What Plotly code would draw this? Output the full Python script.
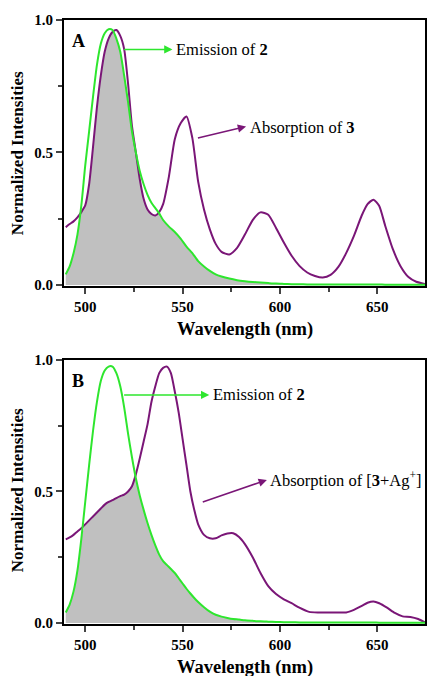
import numpy as np
import plotly.graph_objects as go

# ---------------- data ----------------
wl_a = [490, 492, 494, 496, 498, 500, 502, 504, 506, 508, 510, 512, 514, 516, 518, 520,
        522, 524, 526, 528, 530, 532, 534, 536, 538, 540, 543, 546, 549, 552, 555, 558,
        561, 564, 567, 570, 574, 578, 582, 586, 590, 594, 598, 602, 606, 610, 614, 618,
        622, 626, 630, 634, 638, 642, 645, 648, 651, 654, 658, 662, 666, 670, 675]
emission_a = [0.04, 0.07, 0.12, 0.19, 0.30, 0.45, 0.58, 0.71, 0.83, 0.91, 0.95, 0.965, 0.962, 0.93, 0.88, 0.79,
              0.69, 0.58, 0.50, 0.43, 0.38, 0.34, 0.31, 0.29, 0.27, 0.245, 0.22, 0.20, 0.175, 0.145, 0.12, 0.09,
              0.07, 0.053, 0.04, 0.032, 0.024, 0.018, 0.014, 0.011, 0.009, 0.007, 0.005, 0.004, 0.003, 0.003, 0.002, 0.002,
              0.002, 0.002, 0.002, 0.002, 0.002, 0.002, 0.002, 0.002, 0.002, 0.001, 0.001, 0.001, 0.001, 0.001, 0.001]
absorption_a = [0.218, 0.23, 0.24, 0.255, 0.275, 0.30, 0.38, 0.52, 0.67, 0.79, 0.88, 0.93, 0.955, 0.962, 0.94, 0.89,
                0.76, 0.60, 0.50, 0.40, 0.325, 0.285, 0.268, 0.262, 0.275, 0.305, 0.41, 0.55, 0.61, 0.636, 0.555, 0.39,
                0.285, 0.21, 0.155, 0.125, 0.115, 0.14, 0.19, 0.245, 0.274, 0.265, 0.215, 0.16, 0.11, 0.072, 0.047, 0.034,
                0.028, 0.038, 0.068, 0.12, 0.185, 0.262, 0.305, 0.322, 0.298, 0.225, 0.135, 0.07, 0.03, 0.012, 0.003]

wl_b = [490, 492, 494, 496, 498, 500, 502, 504, 506, 508, 510, 512, 514, 516, 518, 520,
        522, 524, 526, 528, 530, 532, 534, 536, 538, 540, 542, 544, 546, 548, 550, 552,
        554, 556, 558, 561, 564, 567, 570, 573, 576, 579, 582, 586, 590, 594, 598, 602,
        606, 610, 615, 620, 625, 630, 634, 638, 642, 645, 648, 651, 655, 659, 663, 667, 671, 675]
emission_b = [0.04, 0.07, 0.12, 0.20, 0.32, 0.46, 0.60, 0.73, 0.84, 0.92, 0.96, 0.975, 0.975, 0.95, 0.90, 0.82,
              0.72, 0.63, 0.55, 0.485, 0.43, 0.38, 0.335, 0.295, 0.26, 0.235, 0.22, 0.205, 0.19, 0.17, 0.15, 0.13,
              0.112, 0.095, 0.08, 0.06, 0.043, 0.031, 0.024, 0.019, 0.015, 0.013, 0.01, 0.008, 0.006, 0.005, 0.004, 0.003,
              0.003, 0.002, 0.002, 0.002, 0.002, 0.002, 0.002, 0.002, 0.002, 0.002, 0.002, 0.001, 0.001, 0.001, 0.001, 0.001, 0.001, 0.001]
absorption_b = [0.318, 0.325, 0.335, 0.348, 0.36, 0.375, 0.39, 0.405, 0.42, 0.435, 0.45, 0.46, 0.467, 0.475, 0.482, 0.488,
                0.50, 0.52, 0.565, 0.625, 0.69, 0.755, 0.84, 0.90, 0.95, 0.97, 0.975, 0.95, 0.88, 0.80, 0.70, 0.60,
                0.50, 0.43, 0.375, 0.335, 0.322, 0.322, 0.333, 0.34, 0.341, 0.327, 0.30, 0.25, 0.19, 0.14, 0.11, 0.09,
                0.075, 0.058, 0.042, 0.04, 0.04, 0.04, 0.04, 0.05, 0.065, 0.077, 0.082, 0.075, 0.058, 0.038, 0.025, 0.023, 0.015, 0.0]

x_ticks = [500, 550, 600, 650]
y_ticks = [0.0, 0.5, 1.0]
y_ticklabels = ["0.0", "0.5", "1.0"]

# ---------------- style ----------------
GREEN = "#2ee62e"
PURPLE = "#7a1677"
GREY = "#c0c0c0"
SERIF = "Liberation Serif, Times New Roman, serif"

fig = go.Figure()

def add_panel(wl, em, ab, xa, ya):
    overlap = np.minimum(np.array(em), np.array(ab))
    fig.add_trace(go.Scatter(x=wl, y=overlap, mode="lines", line=dict(width=0, shape="spline", smoothing=0.6),
                             fill="tozeroy", fillcolor=GREY, xaxis=xa, yaxis=ya, hoverinfo="skip", showlegend=False))
    fig.add_trace(go.Scatter(x=wl, y=ab, mode="lines", line=dict(color=PURPLE, width=2, shape="spline", smoothing=0.6),
                             xaxis=xa, yaxis=ya, showlegend=False))
    fig.add_trace(go.Scatter(x=wl, y=em, mode="lines", line=dict(color=GREEN, width=2, shape="spline", smoothing=0.6),
                             xaxis=xa, yaxis=ya, showlegend=False))

add_panel(wl_a, emission_a, absorption_a, "x", "y")
add_panel(wl_b, emission_b, absorption_b, "x2", "y2")

tickfont = dict(family=SERIF, size=15, color="black", weight="bold")
xcommon = dict(range=[489.1, 674.5], tickvals=x_ticks, ticks="outside", ticklen=6, tickwidth=1.5,
               showline=True, linecolor="black", linewidth=2, mirror=True, showgrid=False, zeroline=False,
               tickfont=tickfont, minor=dict(tickvals=[525, 575, 625, 675], ticks="outside", ticklen=4, tickwidth=1.5))
ycommon = dict(range=[-0.004, 1.0], tickvals=y_ticks, ticktext=y_ticklabels, ticks="outside", ticklen=6, tickwidth=1.5,
               showline=True, linecolor="black", linewidth=2, mirror=True, showgrid=False, zeroline=False,
               tickfont=tickfont, minor=dict(tickvals=[0.25, 0.75], ticks="outside", ticklen=4, tickwidth=1.5))

fig.update_layout(
    width=428, height=676,
    margin=dict(l=64, r=1, t=20, b=52),
    paper_bgcolor="white", plot_bgcolor="white",
    font=dict(family=SERIF, color="black"),
    xaxis=dict(**xcommon, domain=[0, 1], anchor="y"),
    yaxis=dict(**ycommon, domain=[0.5596, 1.0], anchor="x"),
    xaxis2=dict(**xcommon, domain=[0, 1], anchor="y2"),
    yaxis2=dict(**ycommon, domain=[0.0, 0.4371], anchor="x2"),
)

ann = []
ytitle_font = dict(family=SERIF, size=17, color="black", weight="bold")
xtitle_font = dict(family=SERIF, size=18.5, color="black", weight="bold")
for yc in (0.78, 0.222):
    ann.append(dict(text="Normalized Intensities", xref="paper", yref="paper", x=-0.1267, y=yc,
                    textangle=-90, showarrow=False, font=ytitle_font, xanchor="center", yanchor="middle"))
for yc in (0.487, -0.0712):
    ann.append(dict(text="Wavelength (nm)", xref="paper", yref="paper", x=0.5, y=yc,
                    showarrow=False, font=xtitle_font, xanchor="center", yanchor="middle"))

label_font = dict(family=SERIF, size=18, color="black", weight="bold")
ann.append(dict(text="A", xref="x", yref="y", x=496.5, y=0.92, showarrow=False, font=label_font))
ann.append(dict(text="B", xref="x2", yref="y2", x=496.5, y=0.92, showarrow=False, font=label_font))

txt_font = dict(family=SERIF, size=16.5, color="black")

def arrow(xr, yr, x0, y0, x1, y1, color):
    ann.append(dict(text="", xref=xr, yref=yr, axref=xr, ayref=yr, x=x1, y=y1, ax=x0, ay=y0,
                    showarrow=True, arrowhead=2, arrowsize=1.1, arrowwidth=1.5, arrowcolor=color,
                    standoff=0, startstandoff=0))

def label(xr, yr, x, y, text):
    ann.append(dict(text=text, xref=xr, yref=yr, x=x, y=y, xanchor="left", yanchor="middle",
                    showarrow=False, font=txt_font))

arrow("x", "y", 519.2, 0.889, 544.8, 0.889, GREEN)
label("x", "y", 545.5, 0.889, "Emission of <b>2</b>")
arrow("x", "y", 557.1, 0.553, 582.6, 0.598, PURPLE)
label("x", "y", 583.8, 0.596, "Absorption of <b>3</b>")

arrow("x2", "y2", 519.2, 0.867, 563.7, 0.867, GREEN)
label("x2", "y2", 564.5, 0.867, "Emission of <b>2</b>")
arrow("x2", "y2", 559.6, 0.458, 593.3, 0.544, PURPLE)
label("x2", "y2", 593.8, 0.544, "Absorption of [<b>3</b>+Ag<sup>+</sup>]")

fig.update_layout(annotations=ann)
fig.write_html("out.html")
